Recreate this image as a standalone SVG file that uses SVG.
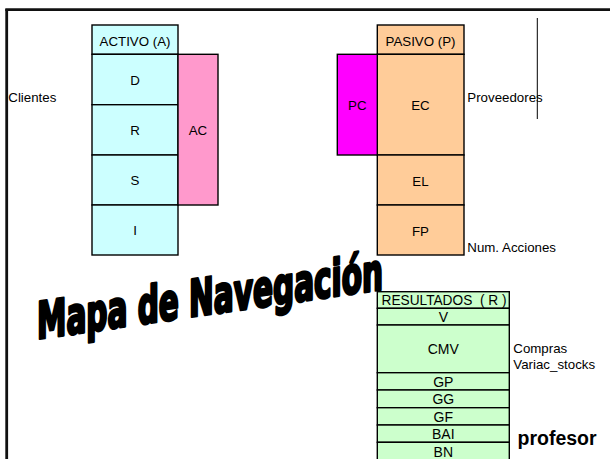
<svg xmlns="http://www.w3.org/2000/svg" width="610" height="459" viewBox="0 0 610 459">
<style>
text{font-family:"Liberation Sans",Arial,sans-serif;fill:#000}
.c{text-anchor:middle;font-size:13.3px}
.l{font-size:13.3px}
.r{text-anchor:middle;font-size:14px}
.b{stroke:#000;stroke-width:1.4}
.act{fill:#CCFFFF}
.pas{fill:#FFCC99}
.res{fill:#CCFFCC}
</style>
<rect width="610" height="459" fill="#fff"/>
<g id="frame">
<line x1="5.3" y1="9.7" x2="610" y2="9.7" stroke="#111" stroke-width="2.8"/>
<line x1="6.7" y1="9" x2="6.7" y2="459" stroke="#111" stroke-width="2.8"/>
</g>
<g id="activo">
<rect class="act b" x="92" y="25" width="86" height="29.3"/>
<text class="c" x="135" y="45.5">ACTIVO (A)</text>
<rect class="act b" x="92" y="54.3" width="86" height="50.4"/>
<text class="c" x="135" y="84.5">D</text>
<rect class="act b" x="92" y="104.7" width="86" height="50.3"/>
<text class="c" x="135" y="134.5">R</text>
<rect class="act b" x="92" y="155" width="86" height="50"/>
<text class="c" x="135" y="184.5">S</text>
<rect class="act b" x="92" y="205" width="86" height="50"/>
<text class="c" x="135" y="234.5">I</text>
</g>
<g id="ac">
<rect x="178" y="54.3" width="40" height="150.7" fill="#FF99CC" class="b"/>
<text class="c" x="198" y="134.5">AC</text>
</g>
<g id="pasivo">
<rect class="pas b" x="377.3" y="25" width="86.7" height="29.3"/>
<text class="c" x="420.5" y="45.5">PASIVO (P)</text>
<rect class="pas b" x="377.3" y="54.3" width="86.7" height="100.7"/>
<text class="c" x="420.5" y="110">EC</text>
<rect class="pas b" x="377.3" y="155" width="86.7" height="50"/>
<text class="c" x="420.5" y="185.5">EL</text>
<rect class="pas b" x="377.3" y="205" width="86.7" height="50"/>
<text class="c" x="420.5" y="235.5">FP</text>
</g>
<g id="pc">
<rect x="337.3" y="54.3" width="40" height="100.7" fill="#FF00FF" class="b"/>
<text class="c" x="357.3" y="110">PC</text>
</g>
<g id="resultados">
<rect class="res b" x="377.3" y="291.7" width="132" height="16.6"/>
<text x="381.5" y="305" style="font-size:14px" textLength="125" lengthAdjust="spacingAndGlyphs" xml:space="preserve">RESULTADOS  ( R )</text>
<rect class="res b" x="377.3" y="308.3" width="132" height="16.7"/>
<text class="r" x="443.3" y="321.5">V</text>
<rect class="res b" x="377.3" y="325" width="132" height="47.7"/>
<text class="r" x="443.3" y="353.5">CMV</text>
<rect class="res b" x="377.3" y="372.7" width="132" height="17.3"/>
<text class="r" x="443.3" y="386.5">GP</text>
<rect class="res b" x="377.3" y="390" width="132" height="17.7"/>
<text class="r" x="443.3" y="404">GG</text>
<rect class="res b" x="377.3" y="407.7" width="132" height="17.3"/>
<text class="r" x="443.3" y="421.5">GF</text>
<rect class="res b" x="377.3" y="425" width="132" height="17.3"/>
<text class="r" x="443.3" y="439">BAI</text>
<rect class="res b" x="377.3" y="442.3" width="132" height="20"/>
<text class="r" x="443.3" y="456.5">BN</text>
</g>
<g id="labels">
<text class="l" x="8.3" y="102">Clientes</text>
<text class="l" x="467.3" y="101.7">Proveedores</text>
<text class="l" x="467.3" y="252">Num. Acciones</text>
<text class="l" x="513.3" y="353">Compras</text>
<text class="l" x="513.3" y="369">Variac_stocks</text>
<text x="517.5" y="445" style="font-size:19.5px;font-weight:bold">profesor</text>
</g>
<g id="connectors">
<line x1="537.3" y1="18" x2="537.3" y2="119" stroke="#000" stroke-width="1"/>
</g>
<g id="title">
<text transform="translate(37,339) skewY(-8.2)" x="0" y="0" textLength="346" lengthAdjust="spacingAndGlyphs" style="font-family:'Liberation Sans Narrow','DejaVu Sans Condensed','Liberation Sans',sans-serif;font-weight:bold;font-size:51px;stroke:#000;stroke-width:3;stroke-linejoin:round">Mapa de Navegación</text>
</g>
</svg>
